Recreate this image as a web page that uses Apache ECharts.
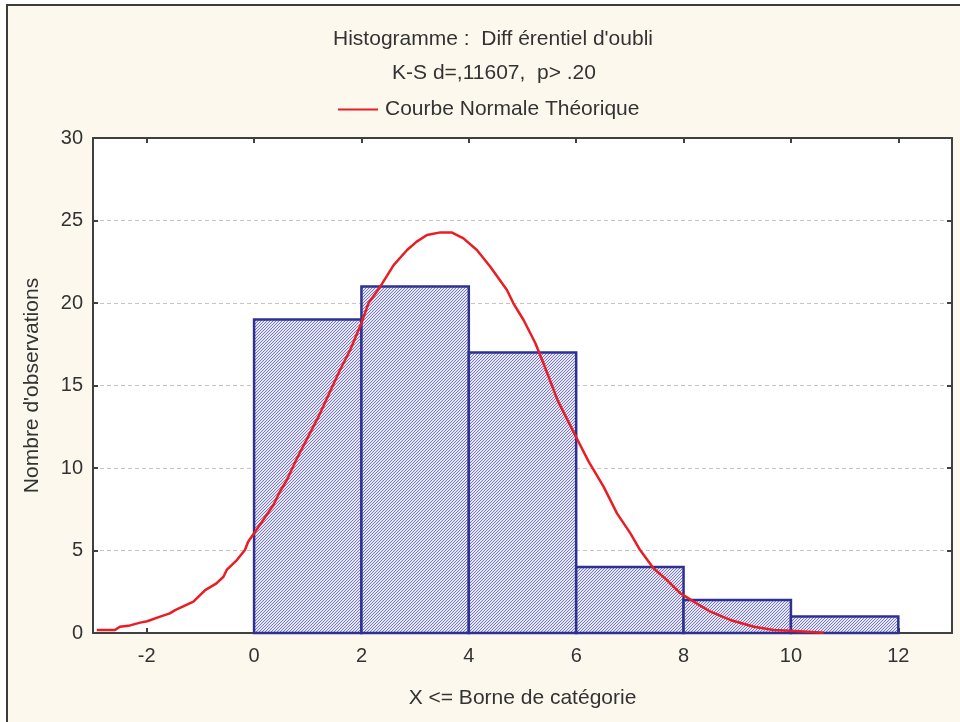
<!DOCTYPE html>
<html>
<head>
<meta charset="utf-8">
<script src="https://cdn.jsdelivr.net/npm/echarts@6/dist/echarts.min.js"></script>
<style>
html,body{margin:0;padding:0;background:#fff;}
#c{width:960px;height:722px;}
</style>
</head>
<body>
<div id="c"></div>
<script>
// ---- data ----
var binStarts = [0, 2, 4, 6, 8, 10];
var binEnds   = [2, 4, 6, 8, 10, 12];
var counts    = [19, 21, 17, 4, 2, 1];

var curveX = [-2.93,-2.59,-2.50,-2.31,-2.12,-1.99,-1.75,-1.57,-1.47,-1.13,-0.91,-0.70,-0.57,-0.51,-0.32,-0.17,-0.11,0.00,0.17,0.36,0.48,0.61,0.80,1.20,1.60,1.79,2.01,2.13,2.35,2.60,2.85,3.03,3.22,3.47,3.68,3.90,4.15,4.40,4.71,4.83,5.02,5.24,5.39,5.66,6.01,6.23,6.51,6.76,7.01,7.19,7.44,7.69,7.94,8.19,8.50,8.87,9.31,9.68,9.99,10.61];
var curveY = [0.18,0.18,0.38,0.46,0.63,0.71,0.99,1.19,1.39,1.90,2.60,3.01,3.41,3.82,4.42,5.03,5.53,6.04,6.85,7.76,8.56,9.27,10.59,13.11,15.94,17.15,18.87,19.98,20.99,22.30,23.21,23.72,24.12,24.28,24.28,23.92,23.21,22.20,20.79,19.98,18.97,17.56,16.35,14.05,11.80,10.40,8.87,7.25,6.04,5.03,3.92,3.21,2.41,1.90,1.29,0.79,0.38,0.18,0.14,0.02];

var titleLine1 = "Histogramme :  Diff érentiel d'oubli";
var titleLine2 = "K-S d=,11607,  p> .20";
var legendName = "Courbe Normale Théorique";
var xAxisName = "X <= Borne de catégorie";
var yAxisName = "Nombre d'observations";

// ---- build ----
var histData = binStarts.map(function (s, i) { return [s, binEnds[i], counts[i]]; });
var curveData = curveX.map(function (x, i) { return [x, curveY[i]]; });

// hatch pattern
var pc = document.createElement('canvas');
pc.width = 3; pc.height = 3;
var pctx = pc.getContext('2d');
pctx.fillStyle = '#e6e7f4';
pctx.fillRect(0, 0, 3, 3);
pctx.fillStyle = '#7679c0';
for (var k = 0; k < 3; k++) { pctx.fillRect(k, 2 - k, 1, 1); }
var hatch = { image: pc, repeat: 'repeat' };

var FONT = 'Liberation Sans, Arial, sans-serif';
var TXT = '#333333';
var AX = '#404040';

var chart = echarts.init(document.getElementById('c'), null, { renderer: 'canvas' });
chart.setOption({
  backgroundColor: '#ffffff',
  animation: false,
  graphic: [{
    type: 'rect', z: -100, silent: true,
    shape: { x: 7, y: 5, width: 1000, height: 1000 },
    style: { fill: '#fdf8ee', stroke: '#3c3c3c', lineWidth: 2 }
  }],
  title: [
    { text: titleLine1, left: 488, top: 24, textAlign: 'center',
      textStyle: { fontFamily: FONT, fontSize: 21, fontWeight: 'normal', color: TXT } },
    { text: titleLine2, left: 489, top: 58, textAlign: 'center',
      textStyle: { fontFamily: FONT, fontSize: 21, fontWeight: 'normal', color: TXT } }
  ],
  legend: {
    left: 333, top: 94,
    itemWidth: 40, itemHeight: 2,
    data: [{ name: legendName, icon: 'rect' }],
    textStyle: { fontFamily: FONT, fontSize: 21, color: TXT, padding: [0, 0, 0, 2] }
  },
  grid: {
    left: 93, right: 8, top: 138, bottom: 89,
    show: true, backgroundColor: '#ffffff', borderWidth: 0
  },
  xAxis: [{
    type: 'value', min: -3, max: 13, splitNumber: 8,
    name: xAxisName, nameLocation: 'middle', nameGap: 55,
    nameTextStyle: { fontFamily: FONT, fontSize: 21, color: TXT },
    axisLine: { show: true, onZero: false, lineStyle: { color: AX, width: 2 } },
    axisTick: { show: true, inside: true, length: 5, lineStyle: { color: AX, width: 2 } },
    axisLabel: { fontFamily: FONT, fontSize: 20, color: TXT, margin: 13, showMinLabel: false, showMaxLabel: false },
    splitLine: { show: false }
  }, {
    type: 'value', min: -3, max: 13, splitNumber: 8, position: 'top',
    axisLine: { show: true, onZero: false, lineStyle: { color: AX, width: 2 } },
    axisTick: { show: true, inside: true, length: 5, lineStyle: { color: AX, width: 2 } },
    axisLabel: { show: false },
    splitLine: { show: false }
  }],
  yAxis: [{
    type: 'value', min: 0, max: 30, interval: 5,
    name: yAxisName, nameLocation: 'middle', nameGap: 50,
    nameTextStyle: { fontFamily: FONT, fontSize: 21, color: TXT },
    axisLine: { show: true, onZero: false, lineStyle: { color: AX, width: 2 } },
    axisTick: { show: true, inside: true, length: 5, lineStyle: { color: AX, width: 2 } },
    axisLabel: { fontFamily: FONT, fontSize: 20, color: TXT, margin: 10 },
    splitLine: { show: true, lineStyle: { color: '#c9c3c3', type: [4, 3], width: 1 } }
  }, {
    type: 'value', min: 0, max: 30, interval: 5, position: 'right',
    axisLine: { show: true, onZero: false, lineStyle: { color: AX, width: 2 } },
    axisTick: { show: true, inside: true, length: 5, lineStyle: { color: AX, width: 2 } },
    axisLabel: { show: false },
    splitLine: { show: false }
  }],
  series: [{
    type: 'custom',
    name: 'hist',
    xAxisIndex: 0, yAxisIndex: 0,
    z: 2,
    renderItem: function (params, api) {
      var p0 = api.coord([api.value(0), api.value(2)]);
      var p1 = api.coord([api.value(1), 0]);
      return {
        type: 'rect',
        shape: { x: p0[0], y: p0[1], width: p1[0] - p0[0], height: p1[1] - p0[1] },
        style: { fill: hatch, stroke: '#2e3192', lineWidth: 2.5 }
      };
    },
    encode: { x: [0, 1], y: 2 },
    data: histData
  }, {
    type: 'line',
    name: legendName,
    xAxisIndex: 0, yAxisIndex: 0,
    z: 3,
    showSymbol: false,
    smooth: false,
    color: '#ea1c24',
    lineStyle: { color: '#ea1c24', width: 2.5 },
    data: curveData
  }]
});
</script>
</body>
</html>
